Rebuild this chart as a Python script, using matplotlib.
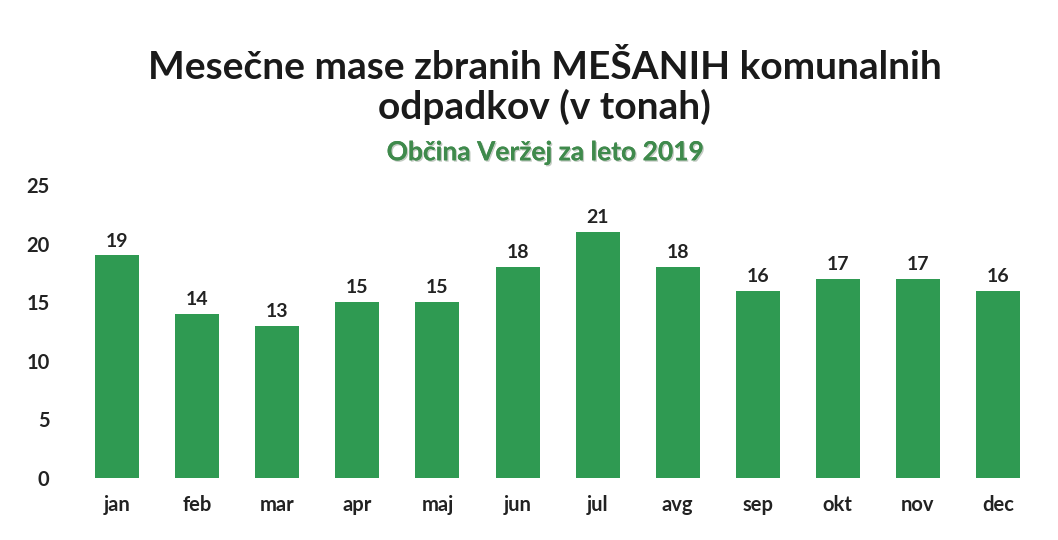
import matplotlib as mpl
import matplotlib.pyplot as plt
import matplotlib.patheffects as pe
import numpy as np

mpl.rcParams['font.family'] = ['Lato', 'DejaVu Sans']

months = ['jan', 'feb', 'mar', 'apr', 'maj', 'jun', 'jul', 'avg', 'sep', 'okt', 'nov', 'dec']
tons = [19, 14, 13, 15, 15, 18, 21, 18, 16, 17, 17, 16]

fig = plt.figure(figsize=(10.58, 5.4), dpi=100)
ax = fig.add_axes([0.073, 0.115, 0.908, 0.542])

x = np.arange(len(months))
bars = ax.bar(x, tons, width=0.55, color='#2f9a52', edgecolor='none')

for xi, v in zip(x, tons):
    ax.text(xi, v + 0.5, str(v), ha='center', va='bottom',
            fontsize=14, fontweight='bold', color='#222222')

ax.set_xlim(-0.5, len(months) - 0.5)
ax.set_ylim(0, 25)
ax.set_yticks([0, 5, 10, 15, 20, 25])
ax.set_xticks(x)
ax.set_xticklabels(months)
ax.tick_params(length=0, colors='#222222', labelsize=14.5)
ax.tick_params(axis='x', pad=12)
ax.tick_params(axis='y', pad=20)
for lab in ax.get_yticklabels() + ax.get_xticklabels():
    lab.set_fontweight('bold')
for s in ax.spines.values():
    s.set_visible(False)

fig.text(0.515, 0.838, 'Mesečne mase zbranih MEŠANIH komunalnih\nodpadkov (v tonah)',
         ha='center', va='center', fontsize=28, fontweight='bold',
         color='#1a1a1a', linespacing=1.1)
sub = fig.text(0.515, 0.718, 'Občina Veržej za leto 2019', ha='center', va='center',
               fontsize=19, fontweight='bold', color='#3f8a4c')
sub.set_path_effects([pe.withSimplePatchShadow(offset=(1, -1), shadow_rgbFace='#9aa89a', alpha=0.6),
                      pe.Normal()])

fig.savefig('out.png', dpi=100)
